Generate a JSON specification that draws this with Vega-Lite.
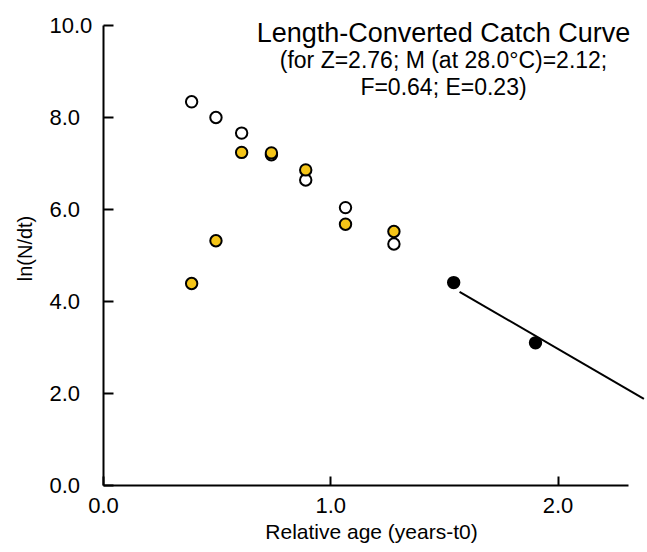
{
  "$schema": "https://vega.github.io/schema/vega-lite/v6.json",
  "width": 525,
  "height": 460,
  "autosize": {"type": "none"},
  "padding": {"left": 103, "top": 25, "right": 19, "bottom": 67},
  "background": "white",
  "config": {"view": {"stroke": null}, "font": "Liberation Sans"},
  "title": {
    "text": "Length-Converted Catch Curve",
    "subtitle": ["(for Z=2.76; M (at 28.0°C)=2.12;", "F=0.64; E=0.23)"],
    "anchor": "middle",
    "frame": "group",
    "dx": 78,
    "offset": -87,
    "fontSize": 27,
    "fontWeight": "normal",
    "font": "Liberation Sans",
    "color": "black",
    "subtitleFont": "Liberation Sans",
    "subtitleFontSize": 23,
    "subtitleLineHeight": 27,
    "subtitlePadding": 2,
    "subtitleColor": "black"
  },
  "datasets": {
    "points": [
      {"age": 0.39, "lnN": 8.33, "series": "open"},
      {"age": 0.497, "lnN": 7.99, "series": "open"},
      {"age": 0.61, "lnN": 7.65, "series": "open"},
      {"age": 0.741, "lnN": 7.18, "series": "open"},
      {"age": 0.892, "lnN": 6.63, "series": "open"},
      {"age": 1.067, "lnN": 6.03, "series": "open"},
      {"age": 1.28, "lnN": 5.24, "series": "open"},
      {"age": 0.39, "lnN": 4.38, "series": "yellow"},
      {"age": 0.497, "lnN": 5.31, "series": "yellow"},
      {"age": 0.61, "lnN": 7.23, "series": "yellow"},
      {"age": 0.741, "lnN": 7.22, "series": "yellow"},
      {"age": 0.892, "lnN": 6.85, "series": "yellow"},
      {"age": 1.067, "lnN": 5.67, "series": "yellow"},
      {"age": 1.28, "lnN": 5.51, "series": "yellow"},
      {"age": 1.543, "lnN": 4.4, "series": "black"},
      {"age": 1.903, "lnN": 3.09, "series": "black"}
    ],
    "fit": [
      {"age": 1.569, "lnN": 4.2},
      {"age": 2.38, "lnN": 1.87}
    ]
  },
  "layer": [
    {
      "data": {"name": "fit"},
      "mark": {"type": "line", "color": "black", "strokeWidth": 2},
      "encoding": {
        "x": {"field": "age", "type": "quantitative"},
        "y": {"field": "lnN", "type": "quantitative"}
      }
    },
    {
      "data": {"name": "points"},
      "mark": {"type": "point", "shape": "circle", "filled": true, "stroke": "black", "strokeWidth": 2, "size": 130, "opacity": 1},
      "encoding": {
        "x": {
          "field": "age",
          "type": "quantitative",
          "scale": {"domain": [0, 2.31], "nice": false, "zero": false},
          "axis": {
            "values": [0, 1, 2],
            "format": ".1f",
            "grid": false,
            "labelFlush": false,
            "domainColor": "black",
            "domainWidth": 2,
            "tickColor": "black",
            "tickWidth": 2,
            "tickSize": -9,
            "labelFontSize": 22,
            "labelColor": "black",
            "labelPadding": 19,
            "labelFont": "Liberation Sans",
            "title": "Relative age (years-t0)",
            "titleFont": "Liberation Sans",
            "titleFontSize": 21,
            "titleFontWeight": "normal",
            "titleColor": "black",
            "titleX": 268,
            "titleY": 53,
            "titleAlign": "center",
            "titleBaseline": "alphabetic"
          }
        },
        "y": {
          "field": "lnN",
          "type": "quantitative",
          "scale": {"domain": [0, 10], "nice": false},
          "axis": {
            "values": [0, 2, 4, 6, 8, 10],
            "format": ".1f",
            "grid": false,
            "labelFlush": false,
            "domainColor": "black",
            "domainWidth": 2,
            "tickColor": "black",
            "tickWidth": 2,
            "tickSize": -10,
            "labelFontSize": 22,
            "labelColor": "black",
            "labelAlign": "left",
            "labelBaseline": "middle",
            "labelPadding": 64,
            "labelFont": "Liberation Sans",
            "title": "ln(N/dt)",
            "titleFont": "Liberation Sans",
            "titleFontSize": 20,
            "titleFontWeight": "normal",
            "titleColor": "black",
            "titleX": -78,
            "titleY": 223,
            "titleAngle": -90,
            "titleAlign": "center",
            "titleBaseline": "middle"
          }
        },
        "fill": {
          "field": "series",
          "type": "nominal",
          "scale": {"domain": ["open", "yellow", "black"], "range": ["white", "#F5C518", "black"]},
          "legend": null
        }
      }
    }
  ]
}
